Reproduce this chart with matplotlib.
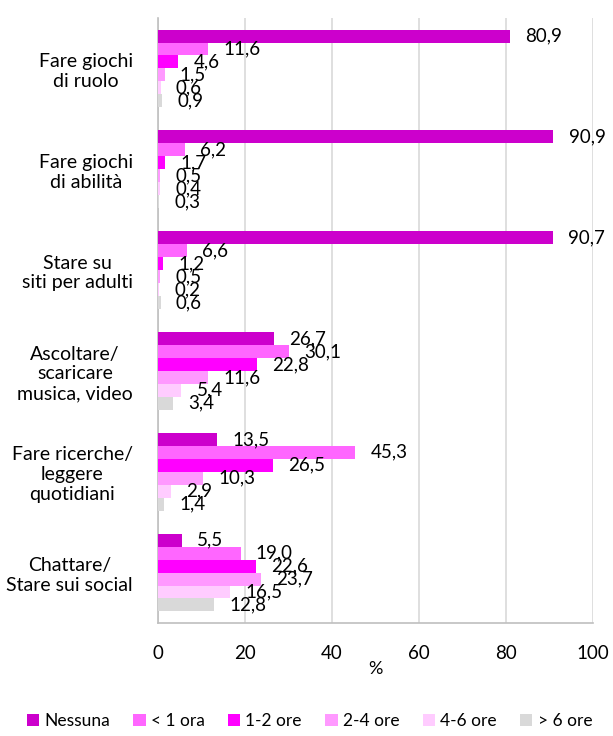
import numpy as np
import matplotlib.pyplot as plt

plt.rcParams['font.family'] = ['Lato', 'DejaVu Sans']

# attività (dall'alto verso il basso)
categorie = [
    "Fare giochi\ndi ruolo",
    "Fare giochi\ndi abilità",
    "Stare su\nsiti per adulti",
    "Ascoltare/\nscaricare\nmusica, video",
    "Fare ricerche/\nleggere\nquotidiani",
    "Chattare/\nStare sui social",
]
serie = ["Nessuna", "< 1 ora", "1-2 ore", "2-4 ore", "4-6 ore", "> 6 ore"]
colori = ["#CC00CC", "#FF66FF", "#FF00FF", "#FF99FF", "#FFCCFF", "#D9D9D9"]

nessuna = [80.9, 90.9, 90.7, 26.7, 13.5, 5.5]
meno_1 = [11.6, 6.2, 6.6, 30.1, 45.3, 19.0]
ore_1_2 = [4.6, 1.7, 1.2, 22.8, 26.5, 22.6]
ore_2_4 = [1.5, 0.5, 0.5, 11.6, 10.3, 23.7]
ore_4_6 = [0.6, 0.4, 0.2, 5.4, 2.9, 16.5]
oltre_6 = [0.9, 0.3, 0.6, 3.4, 1.4, 12.8]
valori = [nessuna, meno_1, ore_1_2, ore_2_4, ore_4_6, oltre_6]

fig = plt.figure(figsize=(6.13, 7.36), dpi=100)
ax = fig.add_axes([158 / 613, 1 - 623 / 736, 435 / 613, 605 / 736])

n_cat = len(categorie)
n_ser = len(serie)
gruppo = 0.77
h = gruppo / n_ser
centri = np.arange(n_cat)[::-1].astype(float)

for j, (nome, col, vals) in enumerate(zip(serie, colori, valori)):
    y = centri + gruppo / 2 - h * (j + 0.5)
    ax.barh(y, vals, height=h, color=col, label=nome, zorder=3)
    for yy, v in zip(y, vals):
        ax.annotate(f"{v:.1f}".replace(".", ","), (v, yy), xytext=(11, 0),
                    textcoords="offset points", va="center", ha="left",
                    fontsize=13.5, color="black", zorder=4)

ax.set_xlim(0, 100)
ax.set_ylim(-0.5, n_cat - 0.5)
ax.set_xticks([0, 20, 40, 60, 80, 100])
ax.tick_params(axis="x", length=0, pad=16, labelsize=13.5)
ax.set_xlabel("%", fontsize=13, labelpad=-1)
ax.set_yticks(centri)
ax.set_yticklabels(categorie, fontsize=14)
ax.tick_params(axis="y", length=0, pad=18)
for lab in ax.get_yticklabels():
    lab.set_multialignment("center")

ax.grid(axis="x", color="#D9D9D9", linewidth=1.2, zorder=0)
for s in ["top", "right"]:
    ax.spines[s].set_visible(False)
for s in ["left", "bottom"]:
    ax.spines[s].set_color("#BFBFBF")
    ax.spines[s].set_linewidth(1.2)

fig.legend(loc="lower center", bbox_to_anchor=(0.505, -0.012), ncol=6, frameon=False,
           fontsize=12.5, handlelength=0.7, handleheight=0.7, handletextpad=0.3,
           columnspacing=1.35)

fig.savefig("out.png", dpi=100)
